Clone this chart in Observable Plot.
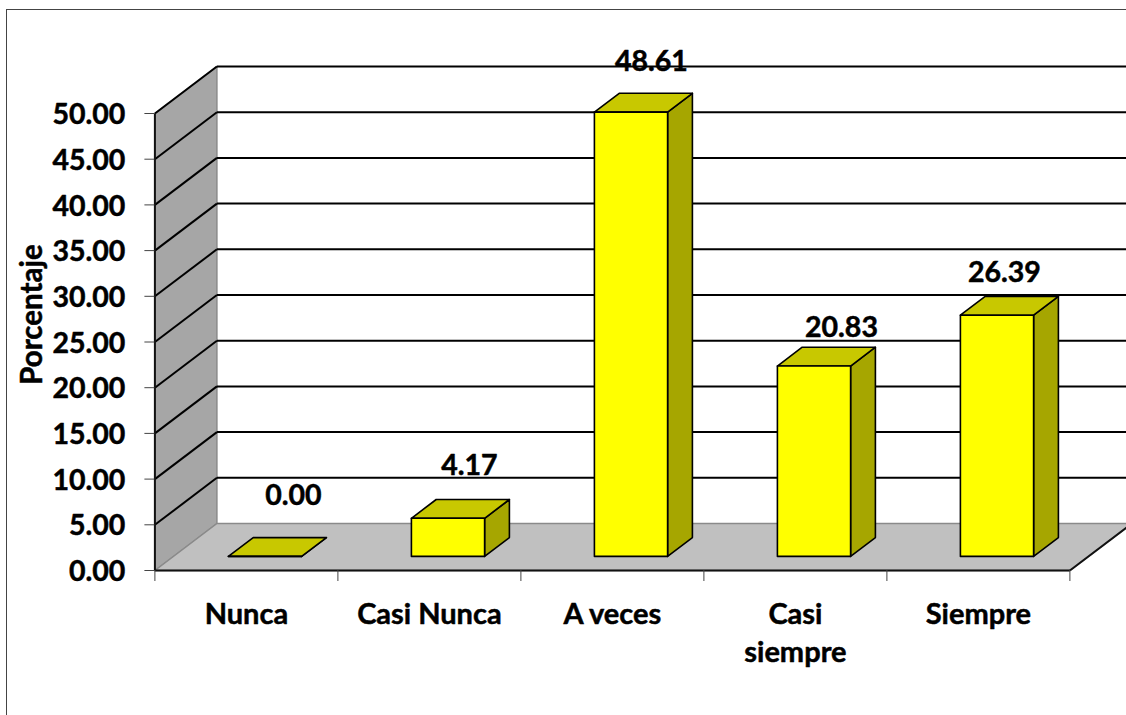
<!DOCTYPE html>
<html lang="es">
<head>
<meta charset="utf-8">
<script src="https://cdn.jsdelivr.net/npm/d3@7"></script>
<script src="https://cdn.jsdelivr.net/npm/@observablehq/plot@0.6"></script>
<style>
  html, body { margin: 0; padding: 0; background: #fff; overflow: hidden; }
  #chart { position: relative; width: 1126px; height: 715px; }
  #border { position: absolute; left: 6px; top: 9px; right: -4px; bottom: -4px;
            border: 1.5px solid #444; }
  #chart svg { position: absolute; left: 0; top: 0; }
</style>
</head>
<body>
<div id="chart"><div id="border"></div></div>
<script>
// Data
const categories = ["Nunca", "Casi Nunca", "A veces", "Casi\nsiempre", "Siempre"];
const values = [0, 4.17, 48.61, 20.83, 26.39];
const valueLabels = ["0.00", "4.17", "48.61", "20.83", "26.39"];
const yTicks = [0, 5, 10, 15, 20, 25, 30, 35, 40, 45, 50];
const yTitle = "Porcentaje";

// Oblique projection, in data units
const depthX = 0.3388, depthY = 5.14;
const project = (cat, val, d) => ({x: cat + d * depthX, y: val + d * depthY});
const nCat = categories.length;

// Bar placement inside a category and along the depth axis
const barL = 0.3, barR = 0.7, depthA = 0.3, depthB = 0.7;

// Manually placed data labels (relative to the category start / bar value)
const labelShiftX = [0.754, 0.716, 0.71, 0.749, 0.639];
const labelLift = [8.37, 7.48, 7.24, 5.92, 6.38];

const poly = (face, pts) => [...pts, pts[0]].map((p) => ({...project(...p), face}));
const faces = (fn) => values.flatMap((v, i) => poly(i, fn(i, v)));

const frontFaces = faces((i, v) => [[i + barL, 0, depthA], [i + barR, 0, depthA], [i + barR, v, depthA], [i + barL, v, depthA]]);
const sideFaces = faces((i, v) => [[i + barR, 0, depthA], [i + barR, 0, depthB], [i + barR, v, depthB], [i + barR, v, depthA]]);
const topFaces = faces((i, v) => [[i + barL, v, depthA], [i + barR, v, depthA], [i + barR, v, depthB], [i + barL, v, depthB]]);

const yMax = d3.max(yTicks);
const wall = poly("wall", [[0, 0, 0], [0, 0, 1], [0, yMax, 1], [0, yMax, 0]]);
const floor = poly("floor", [[0, 0, 0], [nCat, 0, 0], [nCat, 0, 1], [0, 0, 1]]);

const seg = (a, b) => {
  const p = project(...a), q = project(...b);
  return {x1: p.x, y1: p.y, x2: q.x, y2: q.y};
};
const wallLines = yTicks.slice(1).map((v) => seg([0, v, 0], [0, v, 1]));
const backLines = yTicks.slice(1).map((v) => seg([0, v, 1], [nCat, v, 1]));

const font = "Lato, Carlito, Calibri, sans-serif";
const heavy = {fontWeight: 700, fill: "#000", stroke: "#000", strokeWidth: 0.5};

const chart = Plot.plot({
  width: 1126,
  height: 715,
  marginLeft: 154.4,
  marginRight: 56.6,
  marginTop: 113,
  marginBottom: 145,
  x: {type: "linear", domain: [0, nCat], axis: null},
  y: {type: "linear", domain: [0, yMax], axis: null},
  style: {background: "transparent", fontFamily: font, color: "#000"},
  marks: [
    Plot.line(wall, {x: "x", y: "y", fill: "#a6a6a6", stroke: "#8a8a8a", strokeWidth: 1.5}),
    Plot.line(floor, {x: "x", y: "y", fill: "#c0c0c0", stroke: "#8a8a8a", strokeWidth: 1.5}),
    Plot.link(wallLines, {x1: "x1", y1: "y1", x2: "x2", y2: "y2", stroke: "#000", strokeWidth: 2}),
    Plot.link(backLines, {x1: "x1", y1: "y1", x2: "x2", y2: "y2", stroke: "#000", strokeWidth: 2}),
    // Front edges of the floor and the wall
    Plot.link([seg([0, 0, 0], [nCat, 0, 0]), seg([nCat, 0, 0], [nCat, 0, 1]), seg([0, 0, 0], [0, yMax, 0])],
      {x1: "x1", y1: "y1", x2: "x2", y2: "y2", stroke: "#111", strokeWidth: 2}),
    Plot.line(sideFaces, {x: "x", y: "y", z: "face", fill: "#a6a600", stroke: "#000", strokeWidth: 1.6}),
    Plot.line(topFaces, {x: "x", y: "y", z: "face", fill: "#c8c800", stroke: "#000", strokeWidth: 1.6}),
    Plot.line(frontFaces, {x: "x", y: "y", z: "face", fill: "#ffff00", stroke: "#000", strokeWidth: 1.6}),
    Plot.axisY({
      ticks: yTicks, tickSize: 10, stroke: "#444", label: null, tickFormat: () => ""
    }),
    Plot.text(yTicks, {
      x: 0, y: (d) => d, text: d3.format(".2f"), textAnchor: "end", dx: -29.5, dy: 1.5,
      fontSize: 28.5, ...heavy
    }),
    Plot.axisX({
      ticks: d3.range(nCat + 1), tickFormat: () => "", tickSize: 11, stroke: "#444", label: null
    }),
    Plot.text(categories, {
      x: (d, i) => i + 0.5, y: 0, text: (d) => d, dy: 26.5, lineAnchor: "top", lineHeight: 1.31,
      fontSize: 29, ...heavy
    }),
    Plot.text(valueLabels, {
      x: (d, i) => i + labelShiftX[i], y: (d, i) => values[i] + labelLift[i], text: (d) => d,
      dx: 0.5, dy: 1.5, fontSize: 28.5, ...heavy
    }),
    Plot.text([yTitle], {
      x: -0.67, y: 28, text: (d) => d, rotate: -90, dx: 0.5, fontSize: 29.5, ...heavy
    })
  ]
});
document.getElementById("chart").appendChild(chart);
</script>
</body>
</html>
